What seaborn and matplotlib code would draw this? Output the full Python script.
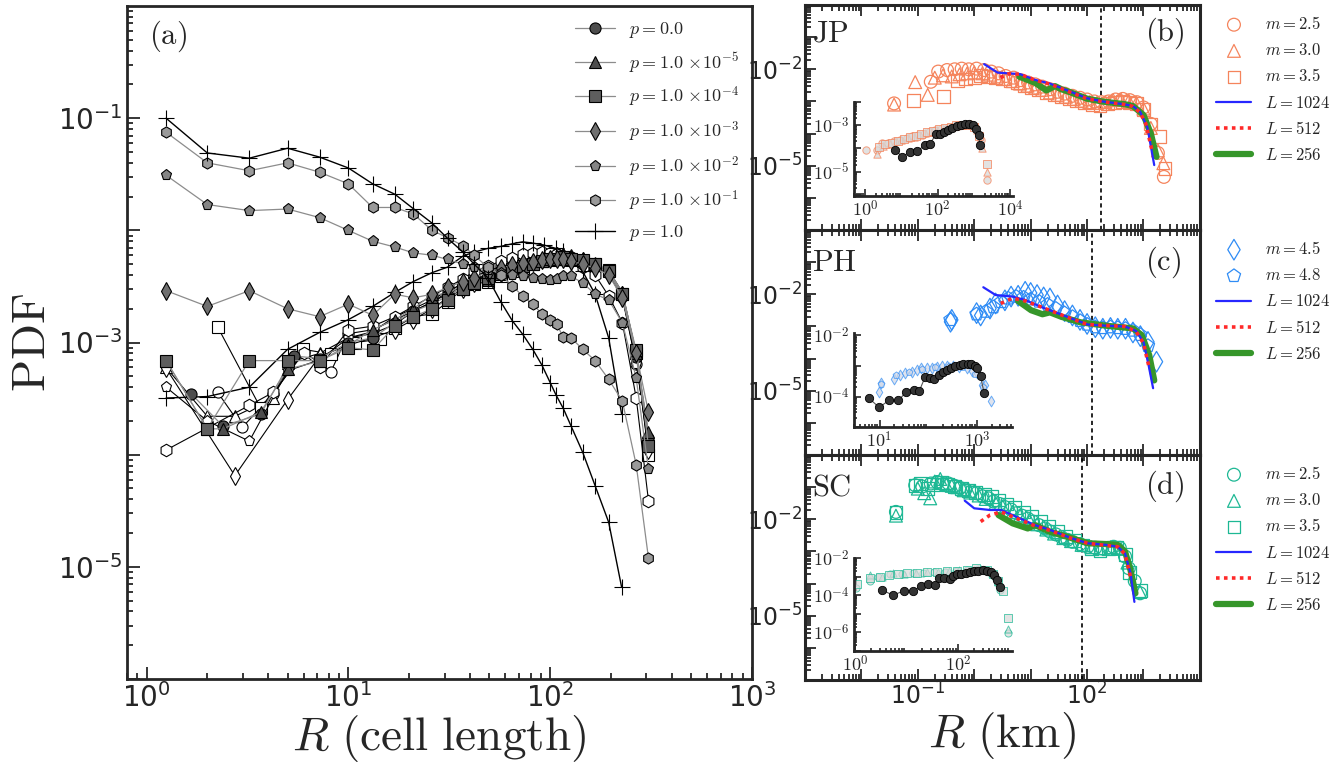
import numpy as np
import matplotlib
matplotlib.use("Agg")
import matplotlib.pyplot as plt
from matplotlib.ticker import LogLocator, NullFormatter
import seaborn as sns

# ---------------- panel (a): filled series (legend) ----------------
r_p0 = [1.66, 2.39, 3.68, 5.35, 7.2, 10, 13.2, 17, 21, 26, 31, 37, 42, 49, 57, 65, 73, 82, 91, 100, 108, 116, 127, 145, 167, 195, 228, 267, 307]
pdf_p0 = [3.5e-4, 1.8e-4, 2.3e-4, 7.6e-4, 7.2e-4, 1.0e-3, 1.1e-3, 1.5e-3, 1.9e-3, 2.2e-3, 2.6e-3, 3.1e-3, 3.5e-3, 3.9e-3, 4.3e-3, 4.6e-3, 4.9e-3, 5.2e-3, 5.4e-3, 5.6e-3, 5.7e-3, 5.6e-3, 5.5e-3, 5.3e-3, 4.8e-3, 4.2e-3, 2.6e-3, 7.5e-4, 1.4e-4]

r_p5 = [1.25, 2.0, 2.39, 3.68, 5.0, 7.2, 10, 13.2, 17, 21, 26, 31, 37, 42, 49, 57, 65, 73, 82, 91, 100, 108, 116, 127, 145, 167, 195, 228, 267, 307]
pdf_p5 = [6.9e-4, 1.7e-4, 1.7e-4, 2.4e-4, 5.8e-4, 6.8e-4, 9.5e-4, 1.3e-3, 1.6e-3, 2.0e-3, 2.7e-3, 2.7e-3, 3.3e-3, 3.4e-3, 3.6e-3, 4.2e-3, 4.5e-3, 4.8e-3, 5.1e-3, 5.3e-3, 5.5e-3, 5.8e-3, 5.9e-3, 5.7e-3, 5.5e-3, 5.0e-3, 4.4e-3, 2.8e-3, 8.0e-4, 1.6e-4]

r_grid = [1.25, 2.0, 3.23, 5.0, 7.2, 10, 13.2, 17, 21, 26, 31, 37, 42, 49, 57, 65, 73, 82, 91, 100, 108, 116, 127, 145, 167, 195, 228, 267, 307]
pdf_p4 = [6.9e-4, 1.7e-4, 6.9e-4, 6.9e-4, 6.9e-4, 9.0e-4, 8.6e-4, 1.4e-3, 1.7e-3, 2.0e-3, 2.4e-3, 3.0e-3, 3.4e-3, 3.8e-3, 4.1e-3, 4.5e-3, 4.8e-3, 5.0e-3, 5.3e-3, 5.5e-3, 5.6e-3, 5.8e-3, 5.6e-3, 5.4e-3, 5.0e-3, 4.3e-3, 2.7e-3, 8.5e-4, 1.2e-4]
pdf_p3 = [2.9e-3, 2.1e-3, 2.9e-3, 2.0e-3, 1.7e-3, 2.2e-3, 1.75e-3, 2.7e-3, 2.5e-3, 2.7e-3, 3.1e-3, 3.5e-3, 3.8e-3, 4.2e-3, 4.6e-3, 4.9e-3, 5.1e-3, 5.2e-3, 5.4e-3, 5.5e-3, 5.6e-3, 5.5e-3, 5.3e-3, 5.0e-3, 4.6e-3, 4.0e-3, 2.5e-3, 8.0e-4, 2.4e-4]
pdf_p2 = [3.1e-2, 1.7e-2, 1.5e-2, 1.55e-2, 1.3e-2, 1.0e-2, 8.0e-3, 7.1e-3, 6.3e-3, 6.0e-3, 5.5e-3, 5.0e-3, 4.7e-3, 4.4e-3, 4.2e-3, 4.0e-3, 3.9e-3, 3.8e-3, 3.7e-3, 3.6e-3, 3.7e-3, 3.9e-3, 3.9e-3, 3.4e-3, 2.7e-3, 2.4e-3, 1.5e-3, 4.8e-4, 7.4e-5]
pdf_p1 = [7.5e-2, 4.0e-2, 3.4e-2, 4.0e-2, 3.3e-2, 2.6e-2, 1.6e-2, 1.6e-2, 1.4e-2, 1.0e-2, 8.6e-3, 7.3e-3, 6.0e-3, 4.7e-3, 4.0e-3, 3.2e-3, 2.6e-3, 2.2e-3, 1.8e-3, 1.6e-3, 1.45e-3, 1.12e-3, 1.1e-3, 8.7e-4, 6.9e-4, 4.7e-4, 3.0e-4, 8.1e-5, 1.2e-5]

r_pp = [1.25, 2.0, 3.23, 5.0, 7.2, 10, 13.2, 17, 21, 26, 31, 37, 42, 49, 57, 65, 73, 82, 91, 100, 107, 116, 127, 145, 167, 195, 226]
pdf_pp = [0.10, 4.9e-2, 4.4e-2, 5.4e-2, 4.5e-2, 3.6e-2, 2.6e-2, 2.1e-2, 1.56e-2, 1.16e-2, 8.5e-3, 6.4e-3, 5.0e-3, 3.8e-3, 2.3e-3, 1.56e-3, 1.19e-3, 8.7e-4, 6.3e-4, 4.4e-4, 3.4e-4, 2.6e-4, 1.8e-4, 1.05e-4, 5.3e-5, 2.5e-5, 6.6e-6]

# ---------------- panel (a): open series (no legend) ----------------
r_oc = [2.25, 2.98, 4.25, 6.0, 8.2, 10, 13.2, 17, 21, 26, 31, 37, 42, 49, 57, 65, 73, 82, 91, 100, 108, 116, 127, 145, 167, 195, 228, 267, 307]
pdf_oc = [3.6e-4, 1.75e-4, 3.5e-4, 8.3e-4, 5.5e-4, 1.2e-3, 1.3e-3, 1.6e-3, 1.9e-3, 2.3e-3, 2.8e-3, 3.4e-3, 3.9e-3, 4.3e-3, 4.8e-3, 5.2e-3, 5.6e-3, 5.9e-3, 6.0e-3, 6.1e-3, 6.0e-3, 5.9e-3, 5.8e-3, 5.4e-3, 4.9e-3, 4.3e-3, 2.6e-3, 6.5e-4, 1.3e-4]

r_ot = [1.25, 2.0, 2.74, 4.25, 5.0, 7.2, 10, 13.2, 17, 21, 26, 31, 37, 42, 49, 57, 65, 73, 82, 91, 100, 108, 116, 127, 145, 167, 195, 228, 267, 307]
pdf_ot = [6.0e-4, 2.2e-4, 2.2e-4, 3.2e-4, 6.6e-4, 8.0e-4, 1.1e-3, 1.25e-3, 1.7e-3, 2.0e-3, 2.4e-3, 2.9e-3, 3.3e-3, 3.7e-3, 4.0e-3, 4.4e-3, 4.8e-3, 5.2e-3, 5.5e-3, 5.8e-3, 6.1e-3, 6.3e-3, 6.2e-3, 6.0e-3, 5.7e-3, 5.0e-3, 4.4e-3, 2.8e-3, 8.0e-4, 1.5e-4]

r_os = [2.25, 3.68, 5.98, 8.2, 10.8, 14.3, 17, 21, 26, 31, 37, 42, 49, 57, 65, 73, 82, 91, 100, 108, 116, 127, 145, 167, 195, 228, 267, 307]
pdf_os = [1.38e-3, 2.6e-4, 8.7e-4, 7.9e-4, 1.0e-3, 1.07e-3, 1.35e-3, 1.7e-3, 1.8e-3, 2.3e-3, 3.0e-3, 3.3e-3, 3.5e-3, 3.9e-3, 4.3e-3, 4.6e-3, 5.0e-3, 5.3e-3, 5.4e-3, 5.5e-3, 5.6e-3, 5.4e-3, 5.3e-3, 5.0e-3, 4.4e-3, 2.7e-3, 8.0e-4, 1.0e-4]

r_od = [1.25, 2.74, 5.0, 7.2, 10, 13.2, 17, 21, 26, 31, 37, 42, 49, 57, 65, 73, 82, 91, 100, 108, 116, 127, 145, 167, 195, 228, 267, 307]
pdf_od = [5.9e-4, 6.5e-5, 3.1e-4, 7.5e-4, 9.5e-4, 1.1e-3, 1.3e-3, 1.6e-3, 2.0e-3, 2.5e-3, 3.0e-3, 3.4e-3, 3.8e-3, 4.2e-3, 4.6e-3, 5.0e-3, 5.3e-3, 5.6e-3, 5.8e-3, 5.9e-3, 5.8e-3, 5.6e-3, 5.3e-3, 4.8e-3, 4.2e-3, 2.6e-3, 7.0e-4, 1.1e-4]

pdf_op = [4.0e-4, 2.0e-4, 1.32e-4, 5.6e-4, 7.0e-4, 1.1e-3, 1.2e-3, 1.45e-3, 1.9e-3, 2.3e-3, 2.7e-3, 3.2e-3, 3.6e-3, 4.0e-3, 4.5e-3, 4.9e-3, 5.3e-3, 5.6e-3, 5.8e-3, 6.0e-3, 6.0e-3, 5.9e-3, 5.7e-3, 5.3e-3, 4.7e-3, 4.1e-3, 2.5e-3, 6.5e-4, 1.2e-4]

r_oh = [1.25, 3.23, 4.25, 6.0, 7.2, 10, 13.2, 17, 21, 26, 31, 37, 42, 49, 57, 65, 73, 82, 91, 100, 108, 116, 127, 145, 167, 195, 228, 267, 307]
pdf_oh = [1.1e-4, 2.75e-4, 3.6e-4, 8.0e-4, 6.0e-4, 1.3e-3, 1.4e-3, 1.7e-3, 2.1e-3, 2.6e-3, 3.1e-3, 3.7e-3, 4.3e-3, 4.8e-3, 5.3e-3, 5.7e-3, 6.1e-3, 6.3e-3, 6.4e-3, 6.3e-3, 6.1e-3, 5.8e-3, 5.4e-3, 4.7e-3, 4.0e-3, 2.6e-3, 1.5e-3, 3.2e-4, 3.9e-5]

r_opl = [1.25, 2.0, 3.23, 5.0, 7.2, 10, 13.2, 17, 21, 26, 31, 37, 42, 49, 57, 65, 73, 82, 93, 107, 116, 145, 167, 195, 226]
pdf_opl = [3.2e-4, 3.3e-4, 4.0e-4, 8.7e-4, 1.23e-3, 1.6e-3, 2.1e-3, 2.8e-3, 3.5e-3, 4.2e-3, 4.7e-3, 5.9e-3, 6.4e-3, 6.9e-3, 7.2e-3, 7.6e-3, 7.9e-3, 7.7e-3, 7.4e-3, 6.9e-3, 6.5e-3, 4.3e-3, 2.7e-3, 1.1e-3, 2.3e-4]

legend_a = [r"$p=0.0$", r"$p=1.0\,\times\!10^{-5}$", r"$p=1.0\,\times\!10^{-4}$", r"$p=1.0\,\times\!10^{-3}$",
            r"$p=1.0\,\times\!10^{-2}$", r"$p=1.0\,\times\!10^{-1}$", r"$p=1.0$"]

# ---------------- panel (b) JP ----------------
jp_r_c = [0.038, 0.17, 0.23, 0.33, 0.45, 0.6, 0.8, 1.1, 1.5, 2.0, 2.7, 3.6, 5, 6.7, 9, 12, 16, 22, 30, 40, 55, 75, 100, 135, 180, 240, 320, 430, 570, 760, 1000, 1350, 1800, 2300]
jp_p_c = [8.7e-4, 4.1e-3, 8.5e-3, 9.5e-3, 1.0e-2, 1.05e-2, 1.0e-2, 1.05e-2, 9.5e-3, 8.5e-3, 7.5e-3, 6.2e-3, 5.5e-3, 4.6e-3, 3.9e-3, 3.4e-3, 2.9e-3, 2.4e-3, 2.0e-3, 1.75e-3, 1.5e-3, 1.3e-3, 1.15e-3, 1.0e-3, 9.5e-4, 1.0e-3, 1.15e-3, 1.2e-3, 1.1e-3, 9.5e-4, 6.5e-4, 2.0e-4, 2.5e-5, 4.5e-6]
jp_r_t = [0.038, 0.09, 0.15, 0.2, 0.28, 0.4, 0.55, 0.75, 1.0, 1.4, 1.9, 2.6, 3.5, 4.8, 6.5, 8.8, 12, 16, 22, 30, 42, 58, 80, 110, 150, 210, 290, 400, 550, 750, 1000, 1350, 1800, 2250]
jp_p_t = [8.0e-4, 4.0e-3, 1.6e-3, 5.5e-3, 6.5e-3, 6.0e-3, 7.0e-3, 7.5e-3, 8.0e-3, 7.5e-3, 6.8e-3, 6.0e-3, 5.0e-3, 4.3e-3, 3.6e-3, 3.1e-3, 2.7e-3, 2.3e-3, 1.9e-3, 1.6e-3, 1.4e-3, 1.2e-3, 1.05e-3, 9.5e-4, 9.0e-4, 9.5e-4, 1.1e-3, 1.15e-3, 1.05e-3, 9.0e-4, 6.0e-4, 1.5e-4, 3.0e-5, 1.2e-5]
jp_r_s = [0.083, 0.29, 0.5, 0.7, 1.0, 1.3, 1.8, 2.4, 3.2, 4.3, 5.8, 7.8, 10.5, 14, 19, 26, 35, 48, 65, 90, 125, 170, 230, 310, 420, 560, 750, 1000, 1350, 1900, 2400]
jp_p_s = [1.1e-3, 1.4e-3, 4.5e-3, 5.0e-3, 5.5e-3, 6.5e-3, 6.0e-3, 5.5e-3, 5.0e-3, 4.4e-3, 3.8e-3, 3.2e-3, 2.7e-3, 2.3e-3, 1.95e-3, 1.65e-3, 1.4e-3, 1.2e-3, 1.05e-3, 9.0e-4, 8.0e-4, 7.5e-4, 8.5e-4, 9.5e-4, 1.0e-3, 9.5e-4, 8.5e-4, 5.5e-4, 2.0e-4, 8.0e-5, 8.0e-6]
jp_r_1024 = [1.5, 2.6, 4, 6.5, 12, 22, 48, 100, 190, 470, 650, 870, 1170, 1550]
jp_p_1024 = [1.45e-2, 7.9e-3, 7.5e-3, 7.1e-3, 4.7e-3, 3.6e-3, 2.1e-3, 1.26e-3, 1.0e-3, 8.1e-4, 7.2e-4, 4.8e-4, 1.6e-4, 1.05e-5]
jp_r_512 = [2.9, 4, 6.5, 12, 22, 48, 100, 190, 470, 650, 870, 1100, 1450]
jp_p_512 = [5.5e-3, 7.2e-3, 7.0e-3, 4.6e-3, 3.5e-3, 2.0e-3, 1.22e-3, 9.8e-4, 8.0e-4, 7.0e-4, 4.5e-4, 2.0e-4, 2.5e-5]
jp_r_256 = [6.3, 12, 19, 27, 35, 48, 100, 190, 470, 650, 1000, 1350, 1700]
jp_p_256 = [5.9e-3, 3.8e-3, 2.2e-3, 3.0e-3, 2.4e-3, 2.0e-3, 1.22e-3, 9.9e-4, 8.2e-4, 7.2e-4, 3.8e-4, 1.0e-4, 1.9e-5]
jp_cut = 178
jp_in_r = [6.8, 10.7, 17.4, 27.5, 46, 62, 91, 117, 155, 200, 257, 339, 437, 575, 741, 933, 1150, 1350, 1480]
jp_in_p = [8.5e-5, 4.4e-5, 7.2e-5, 7.8e-5, 1.4e-4, 1.6e-4, 4.1e-4, 4.1e-4, 5.1e-4, 6.2e-4, 7.9e-4, 9.1e-4, 1.0e-3, 1.1e-3, 1.17e-3, 1.0e-3, 7.2e-4, 3.7e-4, 1.4e-4]
jp_in_r_c = [1.1, 2.1, 2.9, 4.4, 6.5, 9.5, 14, 20, 29, 42, 60, 87, 125, 180, 260, 370, 530, 760, 1100, 1600, 2300]
jp_in_p_c = [8.5e-5, 9.0e-5, 1.7e-4, 1.8e-4, 2.0e-4, 2.4e-4, 2.8e-4, 3.3e-4, 3.8e-4, 4.4e-4, 5.2e-4, 6.0e-4, 7.0e-4, 7.8e-4, 8.8e-4, 9.6e-4, 1.05e-3, 1.1e-3, 8.0e-4, 2.3e-4, 4.5e-6]
jp_in_r_t = [2.1, 3.2, 4.8, 7, 10, 15, 22, 32, 46, 67, 97, 140, 200, 290, 420, 600, 870, 1250, 1700, 2300]
jp_in_p_t = [6.0e-5, 1.3e-4, 1.6e-4, 2.0e-4, 2.3e-4, 2.7e-4, 3.2e-4, 3.8e-4, 4.5e-4, 5.3e-4, 6.2e-4, 7.2e-4, 8.2e-4, 9.2e-4, 1.0e-3, 1.1e-3, 1.0e-3, 6.0e-4, 1.0e-4, 1.0e-5]
jp_in_r_s = [2.4, 3.6, 5.4, 8, 12, 17, 25, 36, 52, 75, 110, 160, 230, 330, 480, 690, 1000, 1400, 2300]
jp_in_p_s = [1.2e-4, 1.5e-4, 1.7e-4, 2.1e-4, 2.5e-4, 3.0e-4, 3.5e-4, 4.2e-4, 5.0e-4, 5.8e-4, 6.8e-4, 7.8e-4, 8.8e-4, 9.8e-4, 1.05e-3, 1.05e-3, 8.5e-4, 3.5e-4, 2.2e-5]

# ---------------- panel (c) PH ----------------
ph_r_d = [0.38, 0.4, 1.1, 1.3, 1.9, 2.4, 3.5, 4.5, 6, 8, 10, 13, 17, 22, 30, 40, 55, 75, 100, 140, 190, 260, 350, 480, 650, 880, 1200, 1700]
ph_p_d = [1.4e-3, 1.6e-3, 2.6e-3, 2.2e-3, 3.6e-3, 5.2e-3, 6.5e-3, 8.5e-3, 9.0e-3, 1.2e-2, 1.1e-2, 9.5e-3, 8.0e-3, 7.4e-3, 4.5e-3, 3.0e-3, 2.2e-3, 1.6e-3, 1.2e-3, 9.5e-4, 8.5e-4, 9.0e-4, 8.5e-4, 8.5e-4, 6.5e-4, 5.0e-4, 3.3e-4, 8.0e-5]
ph_r_p = [0.38, 1.1, 1.6, 2.2, 3.0, 4, 5.5, 7.5, 10, 14, 20, 28, 40, 55, 75, 100, 140, 190, 260, 350, 480, 650, 880, 1200]
ph_p_p = [1.6e-3, 2.4e-3, 2.9e-3, 4.0e-3, 5.8e-3, 7.5e-3, 8.5e-3, 8.0e-3, 7.0e-3, 6.0e-3, 4.8e-3, 3.6e-3, 2.6e-3, 2.0e-3, 1.5e-3, 1.15e-3, 9.5e-4, 9.0e-4, 9.5e-4, 9.0e-4, 8.5e-4, 7.5e-4, 5.5e-4, 2.5e-4]
ph_r_1024 = [1.45, 2.4, 4.8, 8.1, 15, 48, 102, 224, 470, 740, 1000, 1230, 1480]
ph_p_1024 = [1.66e-2, 9.5e-3, 8.5e-3, 6.6e-3, 4.1e-3, 1.9e-3, 1.15e-3, 1.05e-3, 1.0e-3, 7.2e-4, 3.3e-4, 6.3e-5, 1.2e-5]
ph_r_512 = [2.95, 4.8, 8.1, 15, 48, 102, 470, 740, 1000, 1270]
ph_p_512 = [5.2e-3, 7.6e-3, 6.2e-3, 4.1e-3, 1.85e-3, 1.15e-3, 1.0e-3, 6.9e-4, 3.0e-4, 5.0e-5]
ph_r_256 = [6.0, 10.2, 16.2, 22, 35, 76, 224, 650, 930, 1260, 1550]
ph_p_256 = [6.2e-3, 3.2e-3, 2.4e-3, 2.75e-3, 2.0e-3, 1.35e-3, 1.05e-3, 8.7e-4, 5.4e-4, 1.3e-4, 2.1e-5]
ph_cut = 124
ph_in_r = [6.0, 9.8, 15.5, 24, 35.5, 50, 65, 85, 107, 132, 162, 200, 240, 295, 355, 437, 525, 645, 760, 890, 1000, 1175, 1380]
ph_in_p = [8.9e-5, 4.4e-5, 7.4e-5, 7.4e-5, 1.4e-4, 1.66e-4, 1.5e-4, 4.2e-4, 3.9e-4, 3.7e-4, 5.2e-4, 6.5e-4, 7.2e-4, 8.7e-4, 1.02e-3, 1.07e-3, 1.12e-3, 1.15e-3, 1.15e-3, 1.02e-3, 8.3e-4, 4.7e-4, 1.35e-4]
ph_in_r_d = [9.8, 10.5, 20, 26, 33, 46, 58, 72, 93, 117, 148, 190, 240, 316, 417, 617, 794, 1000, 1260, 1480, 1900]
ph_in_p_d = [1.4e-4, 2.7e-4, 3.7e-4, 5.2e-4, 5.8e-4, 6.2e-4, 7.2e-4, 8.3e-4, 8.3e-4, 8.9e-4, 9.3e-4, 1.0e-3, 1.02e-3, 1.0e-3, 9.3e-4, 8.3e-4, 6.8e-4, 5.8e-4, 2.4e-4, 2.3e-4, 6.9e-5]
ph_in_r_p = [10.5, 22, 40, 75, 140, 260, 480, 900, 1300]
ph_in_p_p = [2.5e-4, 5.0e-4, 6.5e-4, 8.0e-4, 9.0e-4, 9.8e-4, 9.0e-4, 5.5e-4, 2.0e-4]

# ---------------- panel (d) SC ----------------
sc_r_c = [0.041, 0.09, 0.12, 0.17, 0.22, 0.28, 0.35, 0.45, 0.56, 0.7, 0.9, 1.1, 1.4, 1.8, 2.2, 2.8, 3.5, 4.5, 5.6, 7, 8.9, 11, 14, 18, 22, 28, 35, 45, 55, 75, 102, 140, 186, 240, 295, 380, 470, 550, 700, 870]
sc_p_c = [1.7e-2, 1.15e-1, 1.05e-1, 1.3e-1, 1.45e-1, 1.25e-1, 1.3e-1, 1.1e-1, 9.5e-2, 8.5e-2, 7.5e-2, 6.5e-2, 5.2e-2, 4.5e-2, 3.6e-2, 3.0e-2, 2.4e-2, 2.0e-2, 1.55e-2, 1.3e-2, 1.05e-2, 8.5e-3, 6.6e-3, 5.2e-3, 4.2e-3, 3.4e-3, 2.8e-3, 2.3e-3, 2.0e-3, 1.7e-3, 1.4e-3, 1.3e-3, 1.25e-3, 1.3e-3, 1.4e-3, 1.3e-3, 7.0e-4, 3.0e-4, 1.2e-4, 5.0e-5]
sc_r_t = [0.041, 0.1, 0.13, 0.166, 0.2, 0.25, 0.32, 0.4, 0.5, 0.65, 0.85, 1.2, 1.6, 2.4, 3.2, 4.8, 6.5, 9.5, 13, 19, 26, 38, 52, 80, 120, 170, 260, 400, 520, 870]
sc_p_t = [1.3e-2, 9.0e-2, 6.5e-2, 4.5e-2, 1.5e-1, 1.8e-1, 1.2e-1, 1.1e-1, 1.0e-1, 8.0e-2, 6.8e-2, 5.5e-2, 4.3e-2, 3.2e-2, 2.5e-2, 1.7e-2, 1.3e-2, 9.5e-3, 7.0e-3, 4.8e-3, 3.6e-3, 2.6e-3, 2.1e-3, 1.6e-3, 1.35e-3, 1.25e-3, 1.35e-3, 1.2e-3, 4.5e-4, 5.5e-5]
sc_r_s = [0.041, 0.09, 0.11, 0.15, 0.19, 0.26, 0.34, 0.44, 0.6, 0.8, 1.05, 1.5, 2.0, 2.7, 3.8, 5.2, 7.5, 10.5, 15, 21, 30, 42, 60, 85, 120, 170, 240, 340, 480, 560, 900]
sc_p_s = [1.6e-2, 1.1e-1, 1.3e-1, 9.0e-2, 1.2e-1, 1.4e-1, 1.2e-1, 1.05e-1, 9.0e-2, 8.0e-2, 7.0e-2, 6.0e-2, 5.0e-2, 4.0e-2, 3.0e-2, 2.3e-2, 1.7e-2, 1.2e-2, 8.5e-3, 6.0e-3, 4.2e-3, 3.0e-3, 2.2e-3, 1.6e-3, 1.2e-3, 1.1e-3, 1.2e-3, 1.3e-3, 8.0e-4, 2.2e-4, 6.0e-5]
sc_r_1024 = [0.68, 1.0, 1.9, 3.0, 4.8, 12, 22, 48, 102, 220, 350, 470, 590, 690]
sc_p_1024 = [3.8e-2, 2.2e-2, 1.95e-2, 1.95e-2, 1.35e-2, 6.6e-3, 4.7e-3, 2.75e-3, 1.8e-3, 1.6e-3, 1.4e-3, 8.7e-4, 2.1e-4, 2.7e-5]
sc_r_512 = [1.3, 1.9, 3.0, 4.8, 12, 22, 48, 102, 350, 470, 590]
sc_p_512 = [8.5e-3, 1.35e-2, 1.7e-2, 1.2e-2, 6.2e-3, 4.5e-3, 2.7e-3, 1.8e-3, 1.4e-3, 8.3e-4, 1.6e-4]
sc_r_256 = [2.7, 4.8, 8.9, 12, 22, 48, 102, 220, 350, 470, 590, 720]
sc_p_256 = [1.35e-2, 7.5e-3, 5.2e-3, 6.6e-3, 4.1e-3, 2.75e-3, 1.8e-3, 1.7e-3, 1.6e-3, 1.0e-3, 2.6e-4, 5.0e-5]
sc_cut = 82
sc_in_r = [3.3, 5.4, 8.7, 13.2, 18.6, 26.3, 35.5, 42.7, 53.7, 67.6, 79.4, 95.5, 115, 141, 170, 200, 245, 295, 355, 427, 490, 562, 646]
sc_in_p = [1.9e-4, 1.0e-4, 1.7e-4, 1.7e-4, 2.95e-4, 3.8e-4, 3.5e-4, 8.5e-4, 7.9e-4, 7.6e-4, 1.05e-3, 1.3e-3, 1.45e-3, 1.6e-3, 1.8e-3, 1.9e-3, 2.1e-3, 2.15e-3, 2.1e-3, 1.7e-3, 1.2e-3, 6.2e-4, 2.75e-4]
sc_in_r_s = [1.07, 1.9, 3.0, 4.5, 6.9, 10, 15.5, 24.5, 38, 59, 93, 145, 224, 355, 479, 589, 724, 933]
sc_in_p_s = [3.8e-4, 7.9e-4, 9.1e-4, 1.26e-3, 1.38e-3, 1.55e-3, 1.5e-3, 1.8e-3, 1.8e-3, 1.9e-3, 2.1e-3, 2.2e-3, 2.9e-3, 2.3e-3, 1.3e-3, 5.6e-4, 1.7e-4, 6.2e-6]
sc_in_r_t = [1.9, 3.3, 5.5, 9, 15, 25, 40, 65, 105, 170, 280, 450, 600, 933]
sc_in_p_t = [1.2e-3, 1.0e-3, 1.5e-3, 1.4e-3, 1.6e-3, 1.7e-3, 1.8e-3, 2.0e-3, 2.2e-3, 2.4e-3, 2.6e-3, 1.6e-3, 5.0e-4, 1.6e-6]
sc_in_r_c = [1.05, 1.9, 2.8, 4.8, 8, 13, 21, 34, 55, 90, 150, 240, 380, 520, 650, 933]
sc_in_p_c = [2.5e-4, 6.0e-4, 1.0e-3, 1.3e-3, 1.4e-3, 1.5e-3, 1.6e-3, 1.7e-3, 1.8e-3, 2.0e-3, 2.2e-3, 2.5e-3, 2.0e-3, 9.0e-4, 2.0e-4, 9.0e-7]

# ---------------- style ----------------
sns.set_style("ticks")
plt.rcParams["font.family"] = ["DejaVu Sans"]
plt.rcParams["mathtext.fontset"] = "cm"


def sup(e):
    return r"$\mathdefault{10^{%d}}$" % e


def cm(e):
    return r"$10^{%d}$" % e


fig = plt.figure(figsize=(13.38, 7.74), dpi=100)

# ================= panel (a) =================
ax = fig.add_axes([0.0949, 0.1227, 0.4671, 0.8695])
ax.set_xscale("log")
ax.set_yscale("log")


def line_a(x, y, marker, fc, lc, lw, label="_nolegend_", ms=8, z=2):
    sns.lineplot(x=x, y=y, ax=ax, sort=False, estimator=None, color=lc, lw=lw,
                 marker=marker, markersize=ms, markerfacecolor=fc,
                 markeredgecolor="black", markeredgewidth=0.8, label=label, zorder=z)


# open (unlabelled) set
line_a(r_oc, pdf_oc, "o", "white", "black", 0.8)
line_a(r_ot, pdf_ot, "^", "white", "black", 0.8)
line_a(r_os, pdf_os, "s", "white", "black", 0.8)
line_a(r_od, pdf_od, "d", "white", "black", 0.8, ms=9)
line_a(r_grid, pdf_op, "p", "white", "black", 0.8)
line_a(r_oh, pdf_oh, "h", "white", "black", 0.8, ms=9)
line_a(r_opl, pdf_opl, "+", "black", "black", 1.0, ms=12)

# filled (labelled) set
line_a(r_p0, pdf_p0, "o", "#4d4d4d", "#8c8c8c", 0.9, legend_a[0], z=3)
line_a(r_p5, pdf_p5, "^", "#4d4d4d", "#8c8c8c", 0.9, legend_a[1], z=3)
line_a(r_grid, pdf_p4, "s", "#5e5e5e", "#8c8c8c", 0.9, legend_a[2], z=3)
line_a(r_grid, pdf_p3, "d", "#707070", "#8c8c8c", 0.9, legend_a[3], ms=9, z=3)
line_a(r_grid, pdf_p2, "p", "#858585", "#8c8c8c", 0.9, legend_a[4], z=3)
line_a(r_grid, pdf_p1, "h", "#9a9a9a", "#8c8c8c", 0.9, legend_a[5], z=3)
line_a(r_pp, pdf_pp, "+", "black", "black", 1.0, legend_a[6], ms=12, z=3)

ax.set_xlim(0.8, 1000)
ax.set_ylim(1e-6, 1.0)
ax.set_xticks([1, 10, 100, 1000], [sup(0), sup(1), sup(2), sup(3)])
ax.set_yticks([1e-6, 1e-5, 1e-4, 1e-3, 1e-2, 1e-1],
              ["", sup(-5), "", sup(-3), "", sup(-1)])
ax.xaxis.set_minor_locator(LogLocator(base=10, subs=np.arange(2, 10), numticks=50))
ax.yaxis.set_minor_locator(LogLocator(base=10, subs=np.arange(2, 10), numticks=50))
ax.xaxis.set_minor_formatter(NullFormatter())
ax.yaxis.set_minor_formatter(NullFormatter())
ax.tick_params(which="both", direction="in", labelsize=20, width=1.3, pad=3)
ax.tick_params(which="major", length=9)
ax.tick_params(which="minor", length=4.5)
for s in ax.spines.values():
    s.set_linewidth(2)
ax.set_xlabel(r"$R\ \mathrm{(cell\ length)}$", fontsize=34, labelpad=0)
ax.set_ylabel(r"$\mathrm{PDF}$", fontsize=34, labelpad=2)
ax.text(0.035, 0.955, r"$\mathrm{(a)}$", transform=ax.transAxes, fontsize=22, va="center")
h, l = ax.get_legend_handles_labels()
ax.legend(h, l, loc="upper left", bbox_to_anchor=(0.705, 0.99), frameon=False,
          fontsize=13, handlelength=2.2, labelspacing=0.56, borderaxespad=0,
          handletextpad=0.8)

# ================= panels (b)-(d) =================
boxes = [[0.6016, 0.7028, 0.2952, 0.2907],
         [0.6016, 0.4121, 0.2952, 0.2907],
         [0.6016, 0.1214, 0.2952, 0.2907]]
insets = [[0.6383, 0.7468, 0.1188, 0.1214],
          [0.6383, 0.4483, 0.1181, 0.1214],
          [0.6383, 0.1589, 0.1181, 0.1202]]
c_jp, c_ph, c_sc = "#f5845c", "#2f8cf5", "#1db894"


def scat(a, x, y, marker, color, label, s=85, lw=0.9, fc="none", alpha=1.0, z=2):
    sns.scatterplot(x=x, y=y, ax=a, marker=marker, s=s, facecolor=fc, edgecolor=color,
                    linewidth=lw, label=label, alpha=alpha, zorder=z, legend=False)


def model_lines(a, r1, p1, r2, p2, r3, p3):
    sns.lineplot(x=r1, y=p1, ax=a, sort=False, estimator=None, color="#2727ff", lw=1.6, label=r"$L=1024$", zorder=4)
    sns.lineplot(x=r2, y=p2, ax=a, sort=False, estimator=None, color="#ff2a2a", lw=2.6, linestyle=(0, (1, 1.2)), label=r"$L=512$", zorder=5)
    sns.lineplot(x=r3, y=p3, ax=a, sort=False, estimator=None, color="#36962a", lw=4.5, label=r"$L=256$", zorder=3)


def frame_right(a, bottom):
    a.set_xscale("log")
    a.set_yscale("log")
    a.set_xlim(1e-3, 1e4)
    a.set_ylim(1e-7, 1.0)
    a.set_xticks([10.0 ** k for k in range(-3, 5)],
                 ["", "", sup(-1), "", "", sup(2), "", ""] if bottom else [""] * 8)
    a.set_yticks([10.0 ** k for k in range(-7, 1)],
                 ["", "", sup(-5), "", "", sup(-2), "", ""])
    a.xaxis.set_minor_locator(LogLocator(base=10, subs=np.arange(2, 10), numticks=50))
    a.yaxis.set_minor_locator(LogLocator(base=10, subs=np.arange(2, 10), numticks=50))
    a.xaxis.set_minor_formatter(NullFormatter())
    a.yaxis.set_minor_formatter(NullFormatter())
    a.tick_params(which="both", direction="in", top=True, labelsize=17, width=1.3, pad=2)
    a.tick_params(which="major", length=8)
    a.tick_params(which="minor", length=4)
    for s in a.spines.values():
        s.set_linewidth(2.2)


def frame_inset(a, xlim, ylim, xt, yt):
    a.set_xscale("log")
    a.set_yscale("log")
    a.set_facecolor("none")
    ymaj = [10.0 ** k for k in range(int(np.floor(np.log10(ylim[0]))), int(np.ceil(np.log10(ylim[1]))) + 1)]
    a.set_xticks([10.0 ** k for k in xt], [cm(k) for k in xt])
    a.set_yticks(ymaj, [cm(int(round(np.log10(v)))) if int(round(np.log10(v))) in yt else "" for v in ymaj])
    a.set_xlim(*xlim)
    a.set_ylim(*ylim)
    a.xaxis.set_minor_locator(LogLocator(base=10, subs=np.arange(2, 10), numticks=50))
    a.yaxis.set_minor_locator(LogLocator(base=10, subs=np.arange(2, 10), numticks=50))
    a.xaxis.set_minor_formatter(NullFormatter())
    a.yaxis.set_minor_formatter(NullFormatter())
    a.tick_params(which="both", direction="in", labelsize=13, width=1.2, pad=3)
    a.tick_params(which="major", length=5)
    a.tick_params(which="minor", length=2.5)
    a.spines["top"].set_visible(False)
    a.spines["right"].set_visible(False)
    a.spines["left"].set_linewidth(2)
    a.spines["bottom"].set_linewidth(2)


def black_curve(a, x, y):
    sns.lineplot(x=x, y=y, ax=a, sort=False, estimator=None, color="#555555", lw=0.8,
                 marker="o", markersize=6, markerfacecolor="#333333",
                 markeredgecolor="black", markeredgewidth=0.6, zorder=4)


def add_legend(a, order):
    h, l = a.get_legend_handles_labels()
    d = dict(zip(l, h))
    a.legend([d[k] for k in order], order, loc="upper left", bbox_to_anchor=(1.025, 0.985),
             frameon=False, fontsize=12, handlelength=2.1, labelspacing=0.49,
             borderaxespad=0, handletextpad=0.8)


# ---- (b) JP ----
axb = fig.add_axes(boxes[0])
scat(axb, jp_r_c, jp_p_c, "o", c_jp, r"$m=2.5$")
scat(axb, jp_r_t, jp_p_t, "^", c_jp, r"$m=3.0$")
scat(axb, jp_r_s, jp_p_s, "s", c_jp, r"$m=3.5$")
model_lines(axb, jp_r_1024, jp_p_1024, jp_r_512, jp_p_512, jp_r_256, jp_p_256)
axb.axvline(jp_cut, color="black", lw=1.2, ls=(0, (2.5, 2)), zorder=1)
frame_right(axb, False)
axb.text(0.018, 0.875, r"$\mathrm{JP}$", transform=axb.transAxes, fontsize=22, va="center")
axb.text(0.86, 0.875, r"$\mathrm{(b)}$", transform=axb.transAxes, fontsize=22, va="center")
add_legend(axb, [r"$m=2.5$", r"$m=3.0$", r"$m=3.5$", r"$L=1024$", r"$L=512$", r"$L=256$"])

ib = fig.add_axes(insets[0])
scat(ib, jp_in_r_c, jp_in_p_c, "o", c_jp, None, s=28, lw=0.7, fc="#d9d9d9", alpha=0.75)
scat(ib, jp_in_r_t, jp_in_p_t, "^", c_jp, None, s=28, lw=0.7, fc="#d9d9d9", alpha=0.75)
scat(ib, jp_in_r_s, jp_in_p_s, "s", c_jp, None, s=28, lw=0.7, fc="#d9d9d9", alpha=0.75)
black_curve(ib, jp_in_r, jp_in_p)
frame_inset(ib, (0.5, 1.2e4), (9e-7, 1.0e-2), [0, 2, 4], [-3, -5])

# ---- (c) PH ----
axc = fig.add_axes(boxes[1])
scat(axc, ph_r_d, ph_p_d, "d", c_ph, r"$m=4.5$", s=110)
scat(axc, ph_r_p, ph_p_p, "p", c_ph, r"$m=4.8$", s=100)
model_lines(axc, ph_r_1024, ph_p_1024, ph_r_512, ph_p_512, ph_r_256, ph_p_256)
axc.axvline(ph_cut, color="black", lw=1.2, ls=(0, (2.5, 2)), zorder=1)
frame_right(axc, False)
axc.text(0.018, 0.855, r"$\mathrm{PH}$", transform=axc.transAxes, fontsize=22, va="center")
axc.text(0.86, 0.855, r"$\mathrm{(c)}$", transform=axc.transAxes, fontsize=22, va="center")
add_legend(axc, [r"$m=4.5$", r"$m=4.8$", r"$L=1024$", r"$L=512$", r"$L=256$"])

ic = fig.add_axes(insets[1])
scat(ic, ph_in_r_d, ph_in_p_d, "d", c_ph, None, s=30, lw=0.7, fc="#d0d8e8", alpha=0.7)
scat(ic, ph_in_r_p, ph_in_p_p, "p", c_ph, None, s=26, lw=0.7, fc="#d0d8e8", alpha=0.7)
black_curve(ic, ph_in_r, ph_in_p)
frame_inset(ic, (3, 5200), (1e-5, 1.2e-2), [1, 3], [-2, -4])

# ---- (d) SC ----
axd = fig.add_axes(boxes[2])
scat(axd, sc_r_c, sc_p_c, "o", c_sc, r"$m=2.5$")
scat(axd, sc_r_t, sc_p_t, "^", c_sc, r"$m=3.0$")
scat(axd, sc_r_s, sc_p_s, "s", c_sc, r"$m=3.5$")
model_lines(axd, sc_r_1024, sc_p_1024, sc_r_512, sc_p_512, sc_r_256, sc_p_256)
axd.axvline(sc_cut, color="black", lw=1.2, ls=(0, (2.5, 2)), zorder=1)
frame_right(axd, True)
axd.set_xlabel(r"$R\ \mathrm{(km)}$", fontsize=34, labelpad=0)
axd.text(0.018, 0.86, r"$\mathrm{SC}$", transform=axd.transAxes, fontsize=22, va="center")
axd.text(0.86, 0.86, r"$\mathrm{(d)}$", transform=axd.transAxes, fontsize=22, va="center")
add_legend(axd, [r"$m=2.5$", r"$m=3.0$", r"$m=3.5$", r"$L=1024$", r"$L=512$", r"$L=256$"])

idd = fig.add_axes(insets[2])
scat(idd, sc_in_r_c, sc_in_p_c, "o", c_sc, None, s=26, lw=0.7, fc="#d9d9d9", alpha=0.7)
scat(idd, sc_in_r_t, sc_in_p_t, "^", c_sc, None, s=26, lw=0.7, fc="#d9d9d9", alpha=0.7)
scat(idd, sc_in_r_s, sc_in_p_s, "s", c_sc, None, s=26, lw=0.7, fc="#d9d9d9", alpha=0.7)
black_curve(idd, sc_in_r, sc_in_p)
frame_inset(idd, (0.95, 1100), (1e-7, 1.0e-2), [0, 2], [-2, -4, -6])

fig.savefig("out.png", dpi=100)
